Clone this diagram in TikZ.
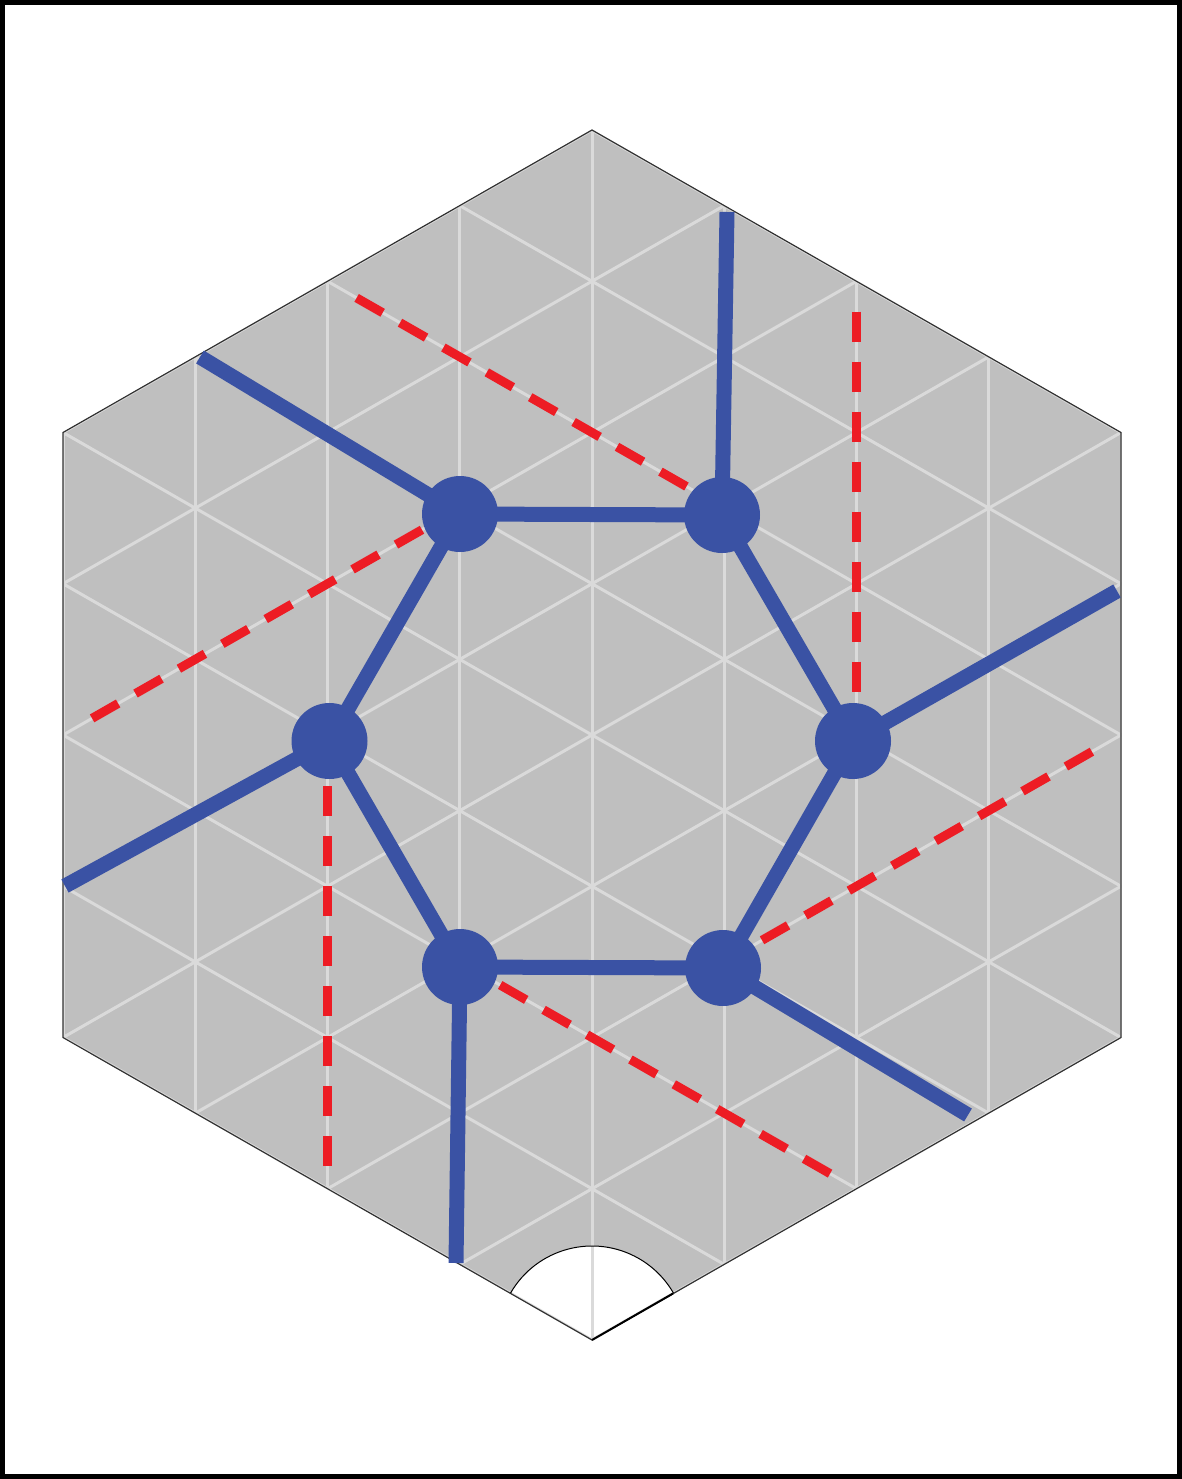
\documentclass[tikz,border=0pt]{standalone}
\definecolor{bblue}{RGB}{58,82,164}
\definecolor{rred}{RGB}{237,28,36}
\definecolor{hexgray}{RGB}{191,191,191}
\definecolor{gridgray}{RGB}{218,218,218}
\definecolor{edgegray}{RGB}{50,50,50}
\begin{document}
\begin{tikzpicture}[x=1pt,y=-1pt,
  gridline/.style={draw=gridgray, line width=3pt},
  hexedge/.style={draw=edgegray, line width=1.2pt},
  bond/.style={draw=bblue, line width=15pt},
  atom/.style={circle, fill=bblue, minimum size=76pt, inner sep=0pt},
  reddash/.style={draw=rred, line width=9pt, dash pattern=on 30pt off 20pt}]
\useasboundingbox (0,0) rectangle (1182,1479);
\draw[line width=4.5pt] (2.3,2.3) rectangle (1179.7,1476.7);
% lattice scope
\begin{scope}[shift={(592,735)}, x={(132.25pt,0pt)}, y={(0pt,-75.625pt)}]
  \coordinate (T) at (0,-8);
  \coordinate (UR) at (4,-4);
  \coordinate (LR) at (4,4);
  \coordinate (Bt) at (0,8);
  \coordinate (LL) at (-4,4);
  \coordinate (UL) at (-4,-4);
  \fill[hexgray] (T)--(UR)--(LR)--(Bt)--(LL)--(UL)--cycle;
  % lattice points near atoms
  \coordinate (la) at (-1,-3);
  \coordinate (lb) at (1,-3);
  \coordinate (lc) at (2,0);
  \coordinate (ld) at (1,3);
  \coordinate (le) at (-1,3);
  \coordinate (lf) at (-2,0);
  % red far ends
  \coordinate (ra) at (-3.78,-0.22);
  \coordinate (rb) at (-1.78,-5.78);
  \coordinate (rc) at (2,-5.6);
  \coordinate (rd) at (3.78,0.22);
  \coordinate (re) at (1.8,5.8);
  \coordinate (rf) at (-2,5.7);
\end{scope}
% white sector at bottom
\fill[white] (592,1340) -- ++(210:94) arc[start angle=210, end angle=330, radius=94] -- cycle;
% grid
\begin{scope}
  \clip (T)--(UR)--(LR)--(Bt)--(LL)--(UL)--cycle;
  \begin{scope}[shift={(592,735)}, x={(132.25pt,0pt)}, y={(0pt,-75.625pt)}]
    \foreach \i in {-4,...,4} \draw[gridline] (\i,-9) -- (\i,9);
    \foreach \k in {-16,-14,...,16} {
      \draw[gridline] (-5,-5-\k) -- (5,5-\k);
      \draw[gridline] (-5,\k+5) -- (5,\k-5);
    }
  \end{scope}
\end{scope}
\draw[hexedge] (T)--(UR)--(LR)--(Bt)--(LL)--(UL)--cycle;
\draw[line width=2pt] (592,1340) -- (673,1293.5);
\draw[line width=1pt] (592,1340) ++(210:94) arc[start angle=210, end angle=330, radius=94];
% red dashed lines
\draw[reddash] (ra) -- (la);
\draw[reddash] (rb) -- (lb);
\draw[reddash] (rc) -- (lc);
\draw[reddash] (rd) -- (ld);
\draw[reddash] (re) -- (le);
\draw[reddash] (rf) -- (lf);
% atom centres and leg ends
\coordinate (A) at (460,514);
\coordinate (B) at (722,515);
\coordinate (C) at (853,741);
\coordinate (D) at (723,968);
\coordinate (E) at (460,967);
\coordinate (F) at (329.5,741);
\coordinate (Aend) at (200,357);
\coordinate (Bend) at (727,212);
\coordinate (Cend) at (1117,591);
\coordinate (Dend) at (968,1115);
\coordinate (Eend) at (456,1263);
\coordinate (Fend) at (65,886);
% bonds
\draw[bond] (A) -- (B) -- (C) -- (D) -- (E) -- (F) -- cycle;
\draw[bond] (A) -- (Aend);
\draw[bond] (B) -- (Bend);
\draw[bond] (C) -- (Cend);
\draw[bond] (D) -- (Dend);
\draw[bond] (E) -- (Eend);
\draw[bond] (F) -- (Fend);
% atoms
\node[atom] (nA) at (A) {};
\node[atom] (nB) at (B) {};
\node[atom] (nC) at (C) {};
\node[atom] (nD) at (D) {};
\node[atom] (nE) at (E) {};
\node[atom] (nF) at (F) {};
\end{tikzpicture}
\end{document}
